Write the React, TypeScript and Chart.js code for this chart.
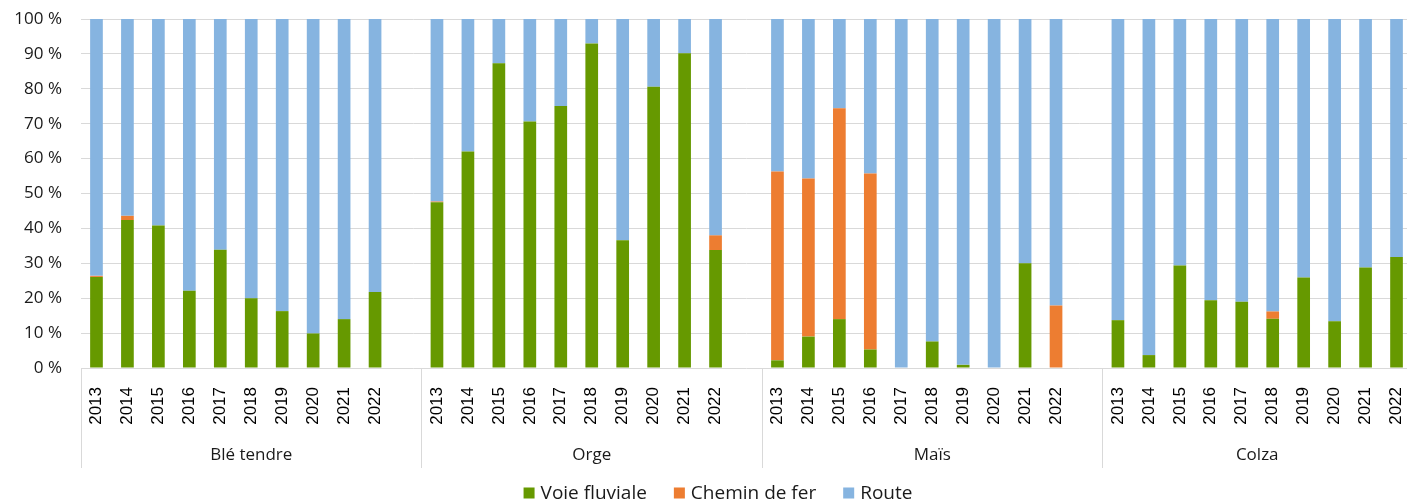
import React, { useEffect, useRef } from 'react';
import { Chart, registerables } from 'chart.js';

Chart.register(...registerables);

const groups = ['Blé tendre', 'Orge', 'Maïs', 'Colza'];
const years = ['2013', '2014', '2015', '2016', '2017', '2018', '2019', '2020', '2021', '2022'];

// Parts in % for each group, years 2013..2022, groups in order above
const voieFluviale = [
  26.1, 42.4, 40.8, 22.1, 33.9, 20.0, 16.3, 9.9, 14.0, 21.8,
  47.5, 62.0, 87.3, 70.6, 75.1, 93.0, 36.6, 80.6, 90.2, 33.8,
  2.2, 9.0, 14.0, 5.3, 0, 7.6, 0.9, 0, 30.0, 0,
  13.7, 3.7, 29.4, 19.4, 19.0, 14.1, 25.9, 13.4, 28.8, 31.8,
];
const cheminDeFer = [
  0.3, 1.2, 0, 0, 0, 0, 0, 0, 0, 0,
  0.2, 0, 0, 0, 0, 0, 0, 0, 0, 4.2,
  54.1, 45.3, 60.4, 50.4, 0, 0, 0, 0, 0, 17.9,
  0, 0, 0, 0, 0, 2.1, 0, 0, 0, 0,
];
const route = [
  73.6, 56.4, 59.2, 77.9, 66.1, 80.0, 83.7, 90.1, 86.0, 78.2,
  52.3, 38.0, 12.7, 29.4, 24.9, 7.0, 63.4, 19.4, 9.8, 62.0,
  43.7, 45.7, 25.6, 44.3, 100, 92.4, 99.1, 100, 70.0, 82.1,
  86.3, 96.3, 70.6, 80.6, 81.0, 83.8, 74.1, 86.6, 71.2, 68.2,
];

const seriesNames = ['Voie fluviale', 'Chemin de fer', 'Route'];
const seriesColors = ['#669900', '#ED7D31', '#86B4E0'];
const yTicks = [0, 10, 20, 30, 40, 50, 60, 70, 80, 90, 100];

const SLOTS_PER_GROUP = years.length + 1;

// Build labels with one empty slot after each group (except last)
const labels: string[] = [];
groups.forEach((g, gi) => {
  years.forEach((y) => labels.push(y));
  if (gi < groups.length - 1) labels.push('');
});

function expand(values: number[]): (number | null)[] {
  const out: (number | null)[] = [];
  groups.forEach((_, gi) => {
    for (let i = 0; i < years.length; i++) out.push(values[gi * years.length + i]);
    if (gi < groups.length - 1) out.push(null);
  });
  return out;
}

const groupAxisPlugin = {
  id: 'groupAxis',
  afterDraw(chart: any) {
    const ctx = chart.ctx;
    const xs = chart.scales.x;
    const area = chart.chartArea;
    const slot = xs.width / labels.length;
    ctx.save();
    ctx.strokeStyle = '#d9d9d9';
    ctx.lineWidth = 1;
    ctx.fillStyle = '#1a1a1a';
    ctx.font = '17px "Open Sans"';
    ctx.textAlign = 'center';
    ctx.textBaseline = 'middle';
    groups.forEach((g, gi) => {
      const startIdx = gi * SLOTS_PER_GROUP;
      const count = gi < groups.length - 1 ? SLOTS_PER_GROUP : years.length;
      const left = xs.left + startIdx * slot;
      const px = Math.round(left) + 0.5;
      ctx.beginPath();
      ctx.moveTo(px, area.bottom);
      ctx.lineTo(px, area.bottom + 100);
      ctx.stroke();
      ctx.fillText(g, left + (count * slot) / 2, area.bottom + 87);
    });

    // Legend
    ctx.font = '19px "Open Sans"';
    ctx.textAlign = 'left';
    const box = 11;
    const gap = 6;
    const spacing = 27;
    const widths = seriesNames.map((n) => ctx.measureText(n).width);
    const total = widths.reduce((a, w) => a + box + gap + w, 0) + spacing * (seriesNames.length - 1);
    let x = 718 - total / 2;
    const cy = 493;
    seriesNames.forEach((n, i) => {
      ctx.fillStyle = seriesColors[i];
      ctx.fillRect(x, cy - box / 2, box, box);
      ctx.fillStyle = '#1a1a1a';
      ctx.fillText(n, x + box + gap, cy + 1);
      x += box + gap + widths[i] + spacing;
    });
    ctx.restore();
  },
};

export default function App() {
  const ref = useRef<HTMLCanvasElement | null>(null);
  useEffect(() => {
    if (!ref.current) return;
    const data = [voieFluviale, cheminDeFer, route];
    const chart = new Chart(ref.current, {
      type: 'bar',
      data: {
        labels,
        datasets: seriesNames.map((name, i) => ({
          label: name,
          data: expand(data[i]),
          backgroundColor: seriesColors[i],
          borderWidth: 0,
          barPercentage: 0.41,
          categoryPercentage: 1,
        })),
      },
      options: {
        responsive: false,
        animation: false,
        layout: { padding: { top: 19, left: 0, right: 0, bottom: 0 } },
        plugins: {
          legend: { display: false },
          tooltip: { enabled: false },
        },
        scales: {
          x: {
            stacked: true,
            grid: { display: false, drawTicks: false },
            border: { display: false },
            ticks: {
              autoSkip: false,
              minRotation: 90,
              maxRotation: 90,
              padding: 19,
              color: '#000',
              font: { family: '"Liberation Sans", Arial, sans-serif', size: 17 },
            },
            afterFit: (scale: any) => {
              scale.height = 133;
              scale.paddingLeft = 0;
              scale.paddingRight = 0;
              scale.paddingTop = 0;
              scale.paddingBottom = 0;
            },
          },
          y: {
            stacked: true,
            min: 0,
            max: 100,
            afterBuildTicks: (scale: any) => {
              scale.ticks = yTicks.map((v) => ({ value: v }));
            },
            grid: { color: '#d9d9d9', lineWidth: 1, drawTicks: false },
            border: { display: false },
            ticks: {
              padding: 19,
              color: '#1a1a1a',
              font: { family: '"Open Sans", sans-serif', size: 17 },
              callback: (v: any) => `${v} %`,
            },
            afterFit: (scale: any) => {
              scale.width = 81;
              scale.paddingTop = 0;
              scale.paddingBottom = 0;
              scale.paddingLeft = 0;
              scale.paddingRight = 0;
            },
          },
        },
      },
      plugins: [groupAxisPlugin],
    });
    return () => chart.destroy();
  }, []);

  return (
    <div style={{ position: 'absolute', left: 0, top: 0, width: 1407, height: 501, overflow: 'hidden', background: '#fff' }}>
      <canvas ref={ref} width={1412} height={501} style={{ display: 'block' }} />
    </div>
  );
}
